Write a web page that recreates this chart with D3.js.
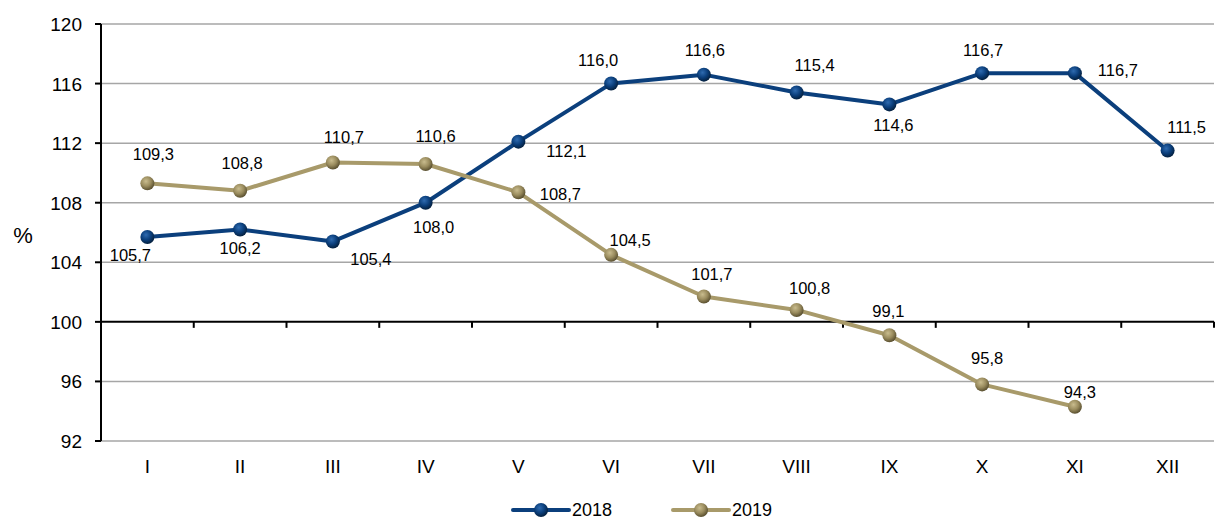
<!DOCTYPE html>
<html lang="en">
<head>
<meta charset="utf-8">
<script src="https://cdn.jsdelivr.net/npm/d3@7"></script>
<style>
  body { margin: 0; background: #fff; }
  text { font-family: "Liberation Sans", Arial, sans-serif; fill: #000; }
  .grid-line { stroke: #a6a6a6; stroke-width: 1.5; }
  .tick-label { font-size: 19px; }
  .data-label { font-size: 16.5px; }
</style>
</head>
<body>
<script>
  var months = ["I", "II", "III", "IV", "V", "VI", "VII", "VIII", "IX", "X", "XI", "XII"];
  var values2018 = [105.7, 106.2, 105.4, 108.0, 112.1, 116.0, 116.6, 115.4, 114.6, 116.7, 116.7, 111.5];
  var values2019 = [109.3, 108.8, 110.7, 110.6, 108.7, 104.5, 101.7, 100.8, 99.1, 95.8, 94.3];
  var yTicks = [92, 96, 100, 104, 108, 112, 116, 120];

  // label placement relative to each point (centre of text)
  var offsets2018 = [[-17, 18], [0, 18], [38, 18], [8, 24], [48, 9], [-13, -24], [1, -25], [18, -28], [4, 21], [1, -23], [43, -3], [19, -24]];
  var offsets2019 = [[6, -29], [2, -28], [11, -26], [10, -28], [42, 2], [19, -15], [8, -23], [13, -22], [-1, -24], [5, -26], [5, -15]];

  var width = 1215, height = 520;
  var margin = {top: 24, right: 1, bottom: 79, left: 101};

  var svg = d3.select("body").append("svg")
      .attr("width", width)
      .attr("height", height);

  var x = d3.scaleBand()
      .domain(months)
      .range([margin.left, width - margin.right]);

  var y = d3.scaleLinear()
      .domain([92, 120])
      .range([height - margin.bottom, margin.top]);

  var cx = function(i) { return x(months[i]) + x.bandwidth() / 2; };

  var defs = svg.append("defs");
  function sphere(id, light, mid, dark) {
    var g = defs.append("radialGradient")
        .attr("id", id)
        .attr("cx", "40%").attr("cy", "35%").attr("r", "65%");
    g.append("stop").attr("offset", "0%").attr("stop-color", light);
    g.append("stop").attr("offset", "55%").attr("stop-color", mid);
    g.append("stop").attr("offset", "100%").attr("stop-color", dark);
  }
  sphere("g2018", "#2f6bb0", "#0b3f7c", "#04203f");
  sphere("g2019", "#c9bc8e", "#9a8c5e", "#5a5030");

  // grid lines
  svg.append("g")
    .selectAll("line")
    .data(yTicks.filter(function(d) { return d !== 100; }))
    .enter().append("line")
      .attr("class", "grid-line")
      .attr("x1", margin.left)
      .attr("x2", width - margin.right)
      .attr("y1", function(d) { return y(d); })
      .attr("y2", function(d) { return y(d); });

  // x axis at 100
  var axisG = svg.append("g");
  axisG.append("line")
      .attr("x1", margin.left).attr("x2", width - margin.right)
      .attr("y1", y(100)).attr("y2", y(100))
      .attr("stroke", "#000").attr("stroke-width", 2);
  axisG.selectAll(".xt")
    .data(months.slice(1).concat(["end"]))
    .enter().append("line")
      .attr("x1", function(d, i) { return margin.left + (i + 1) * x.bandwidth(); })
      .attr("x2", function(d, i) { return margin.left + (i + 1) * x.bandwidth(); })
      .attr("y1", y(100)).attr("y2", y(100) + 6)
      .attr("stroke", "#000").attr("stroke-width", 2);

  // y axis
  svg.append("line")
      .attr("x1", margin.left).attr("x2", margin.left)
      .attr("y1", y(120)).attr("y2", y(92))
      .attr("stroke", "#000").attr("stroke-width", 2);
  svg.append("g").selectAll("line")
    .data(yTicks)
    .enter().append("line")
      .attr("x1", margin.left - 6).attr("x2", margin.left)
      .attr("y1", function(d) { return y(d); })
      .attr("y2", function(d) { return y(d); })
      .attr("stroke", "#000").attr("stroke-width", 2);
  svg.append("g").selectAll("text")
    .data(yTicks)
    .enter().append("text")
      .attr("class", "tick-label")
      .attr("x", margin.left - 19)
      .attr("y", function(d) { return y(d) + 7; })
      .attr("text-anchor", "end")
      .text(function(d) { return d; });

  // month labels
  svg.append("g").selectAll("text")
    .data(months)
    .enter().append("text")
      .attr("class", "tick-label")
      .attr("x", function(d, i) { return cx(i); })
      .attr("y", y(92) + 32)
      .attr("text-anchor", "middle")
      .text(function(d) { return d; });

  svg.append("text")
      .attr("x", 23).attr("y", 243)
      .attr("text-anchor", "middle")
      .style("font-size", "22px")
      .text("%");

  var line = d3.line()
      .x(function(d, i) { return cx(i); })
      .y(function(d) { return y(d); });

  function series(values, color, grad, offsets) {
    var g = svg.append("g");
    g.append("path")
        .datum(values)
        .attr("fill", "none")
        .attr("stroke", color)
        .attr("stroke-width", 4)
        .attr("stroke-linejoin", "round")
        .attr("d", line);
    g.selectAll("circle")
      .data(values)
      .enter().append("circle")
        .attr("cx", function(d, i) { return cx(i); })
        .attr("cy", function(d) { return y(d); })
        .attr("r", 7)
        .attr("fill", "url(#" + grad + ")");
    g.selectAll("text")
      .data(values)
      .enter().append("text")
        .attr("class", "data-label")
        .attr("x", function(d, i) { return cx(i) + offsets[i][0]; })
        .attr("y", function(d, i) { return y(d) + offsets[i][1] + 6; })
        .attr("text-anchor", "middle")
        .text(function(d) { return d3.format(".1f")(d).replace(".", ","); });
  }

  series(values2018, "#0b3f7c", "g2018", offsets2018);
  series(values2019, "#a89a6a", "g2019", offsets2019);

  // legend
  var legend = svg.append("g").attr("transform", "translate(0,510)");
  var items = [{name: "2018", color: "#0b3f7c", grad: "g2018", x: 513},
               {name: "2019", color: "#a89a6a", grad: "g2019", x: 673}];
  var li = legend.selectAll("g").data(items).enter().append("g")
      .attr("transform", function(d) { return "translate(" + d.x + ",0)"; });
  li.append("line")
      .attr("x1", 0).attr("x2", 56)
      .attr("stroke", function(d) { return d.color; })
      .attr("stroke-width", 4)
      .attr("stroke-linecap", "round");
  li.append("circle")
      .attr("cx", 28).attr("r", 7)
      .attr("fill", function(d) { return "url(#" + d.grad + ")"; });
  li.append("text")
      .attr("x", 59).attr("y", 6)
      .style("font-size", "18px")
      .text(function(d) { return d.name; });
</script>
</body>
</html>
